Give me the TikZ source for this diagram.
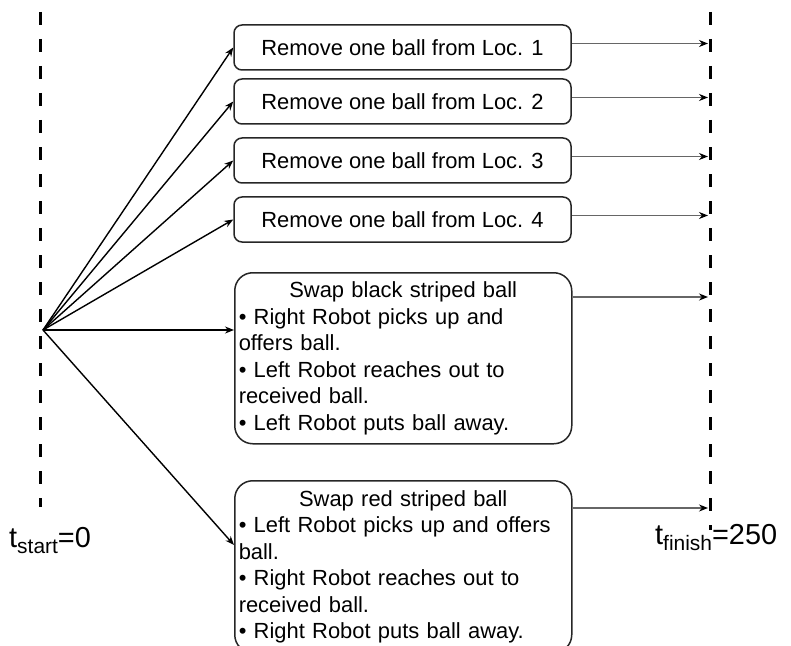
\documentclass[tikz,border=0pt]{standalone}
\usepackage{fontspec}
\setmainfont{Liberation Sans}
\usetikzlibrary{arrows.meta, calc}

\tikzset{
  taskbox/.style={draw=black!85, line width=1.5bp, rounded corners=8bp,
    minimum width=337bp, minimum height=45bp, inner sep=0pt,
    font=\fontsize{22}{26.5}\selectfont},
  swapbox/.style={draw=black!85, line width=1.5bp, rounded corners=18bp,
    text width=329bp, align=left, inner xsep=4bp, inner ysep=0pt,
    font=\fontsize{22}{26.6}\selectfont},
  timeline/.style={dash pattern=on 13bp off 14bp, line width=3bp},
  tlabel/.style={anchor=base west, inner sep=0pt, font=\fontsize{29}{34}\selectfont},
  toend/.style={-{Stealth[length=9bp, width=7bp, black]}, black!60, line width=1.3bp},
}
\newcommand{\tsub}[1]{\raisebox{-6bp}{\fontsize{21}{21}\selectfont #1}}

\begin{document}
\begin{tikzpicture}[>={Stealth[length=9bp, width=7bp]}, x=1bp, y=-1bp]
  \useasboundingbox (0,0) rectangle (791,646);

  % time lines
  \coordinate (start_top) at (40.5,12);
  \coordinate (start_bot) at (40.5,507);
  \coordinate (fin_top) at (710,12);
  \coordinate (fin_bot) at (710,530);
  \draw[timeline] (start_top) -- (start_bot);
  \draw[timeline] (fin_top) -- (fin_bot);
  \coordinate (start) at (43,330);

  \node[tlabel] (t_start) at (9,547) {t\tsub{start}=0};
  \node[tlabel] (t_finish) at (655,544) {t\tsub{finish}=250};

  % remove boxes
  \foreach \i/\y in {1/47.5, 2/101.5, 3/160.5, 4/219.5} {
    \node[taskbox] (rm\i) at (402.5,\y) {Remove one ball from Loc. \i};
  }

  % swap boxes
  \node[swapbox, anchor=north west, minimum height=171bp] (swap_black) at (234,272) {%
    \makebox[329bp][c]{Swap black striped ball}\\
    \textbullet{} Right Robot picks up and\\
    offers ball.\\
    \textbullet{} Left Robot reaches out to\\
    received ball.\\
    \textbullet{} Left Robot puts ball away.};
  \node[swapbox, anchor=north west, minimum height=172bp] (swap_red) at (234,480) {%
    \makebox[329bp][c]{Swap red striped ball}\\
    \textbullet{} Left Robot picks up and offers\\
    ball.\\
    \textbullet{} Right Robot reaches out to\\
    received ball.\\
    \textbullet{} Right Robot puts ball away.};

  % arrows from t_start
  \foreach \i in {1,...,4} {
    \draw[->, line width=1.4bp] (start) -- (rm\i.west);
  }
  \draw[->, line width=1.4bp] (start) -- (start -| swap_black.west);
  \draw[->, line width=1.4bp] (start) -- ($(swap_red.north west)+(0,65)$);

  % arrows to t_finish
  \foreach \i in {1,...,4} {
    \draw[toend] ($(rm\i.east)+(0,-4)$) -- ($(rm\i.east -| fin_top)+(-2,-4)$);
  }
  \draw[toend] ($(swap_black.north east)+(0,25)$) -- ($(swap_black.north east -| fin_top)+(-2,25)$);
  \draw[toend] ($(swap_red.north east)+(0,28)$) -- ($(swap_red.north east -| fin_top)+(-2,28)$);
\end{tikzpicture}
\end{document}
